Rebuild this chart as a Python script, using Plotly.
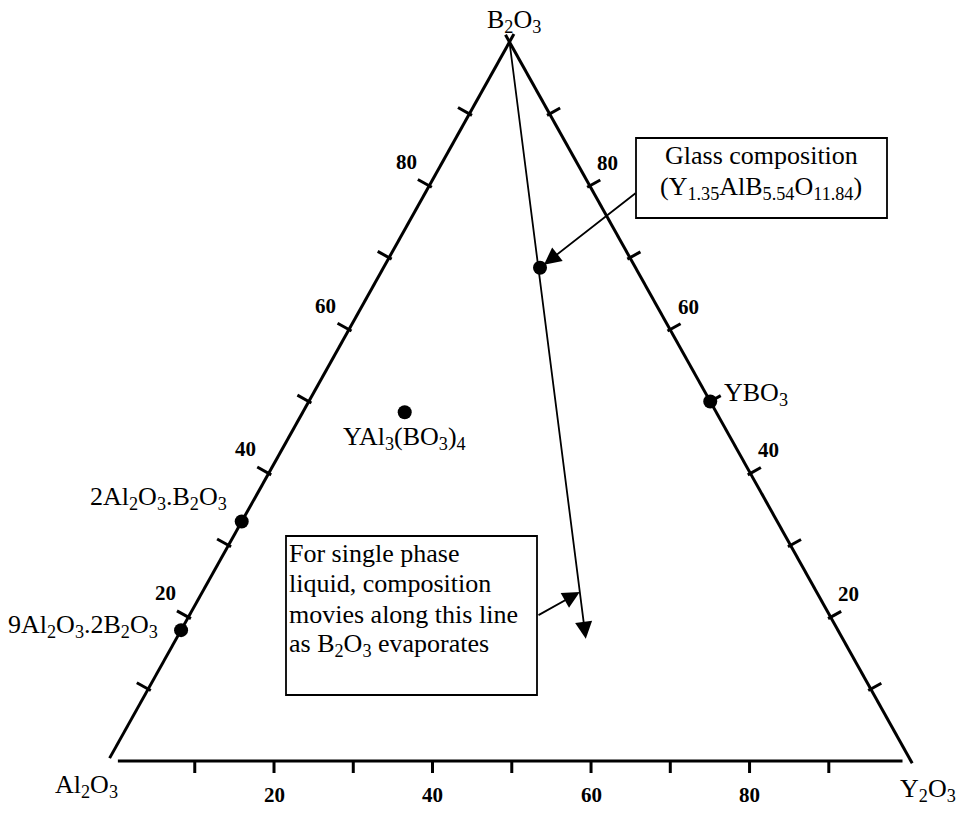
import math
import plotly.graph_objects as go

W, H = 963, 814

# ---------------- data (mol %) ----------------
vertex_names = ["Al<sub>2</sub>O<sub>3</sub>", "B<sub>2</sub>O<sub>3</sub>", "Y<sub>2</sub>O<sub>3</sub>"]

phase_labels = ["9Al<sub>2</sub>O<sub>3</sub>.2B<sub>2</sub>O<sub>3</sub>",
                "2Al<sub>2</sub>O<sub>3</sub>.B<sub>2</sub>O<sub>3</sub>",
                "YAl<sub>3</sub>(BO<sub>3</sub>)<sub>4</sub>",
                "YBO<sub>3</sub>"]
phase_al2o3 = [81.8, 66.7, 38.8, 0.0]
phase_b2o3 = [18.2, 33.3, 48.5, 50.0]
phase_y2o3 = [0.0, 0.0, 12.7, 50.0]

glass_al2o3, glass_b2o3, glass_y2o3 = 11.9, 68.6, 19.5

# evaporation path (start at B2O3 apex, end of arrow)
path_al2o3 = [0.0, 32.0]
path_b2o3 = [100.0, 17.0]
path_y2o3 = [0.0, 51.0]

# point on the path the text-box arrow points to
pointer_al2o3, pointer_b2o3, pointer_y2o3 = 29.5, 23.5, 47.0

edge_ticks = [10, 20, 30, 40, 50, 60, 70, 80, 90]
edge_tick_labels = [20, 40, 60, 80]
base_ticks = [10, 20, 30, 40, 50, 60, 70, 80, 90]
base_tick_labels = [20, 40, 60, 80]

glass_text = ["Glass composition",
              "(Y<sub>1.35</sub>AlB<sub>5.54</sub>O<sub>11.84</sub>)"]
path_text = ["For single phase",
             "liquid, composition",
             "movies along this line",
             "as B<sub>2</sub>O<sub>3</sub> evaporates"]

# ---------------- geometry helpers ----------------
X0_PX, B0_PY = 108.0, 761.0
PX_PER_X, PX_PER_B = 8.03, 7.19
BASE_X0, BASE_K = 0.934, 0.987   # separate scale of the detached base axis

FONT = "Liberation Serif"


def tern(al, b, y):
    return y + b / 2.0, b


def to_px(x, yc):
    return X0_PX + x * PX_PER_X, B0_PY - yc * PX_PER_B


def px_to_data(px, py):
    return (px - X0_PX) / PX_PER_X, (B0_PY - py) / PX_PER_B


def add_px(pt, dpx, dpy):
    return pt[0] + dpx / PX_PER_X, pt[1] - dpy / PX_PER_B


def paper(px, py):
    return px / W, 1 - py / H


fig = go.Figure()
black = "black"

# triangle edges (slight overshoot at apex, as drawn)
le0, le1 = tern(99.6, 0.4, 0), tern(-1.1, 101.1, 0)
re0, re1 = tern(0, 101.0, -1.0), tern(0, -0.3, 100.3)
fig.add_trace(go.Scatter(x=[le0[0], le1[0], None, re0[0], re1[0]],
                         y=[le0[1], le1[1], None, re0[1], re1[1]],
                         mode="lines", line=dict(color=black, width=3),
                         hoverinfo="skip"))

# edge directions in pixels -> outward normals
A = to_px(*tern(100, 0, 0))
B = to_px(*tern(0, 100, 0))
C = to_px(*tern(0, 0, 100))


def unit(v):
    l = math.hypot(*v)
    return v[0] / l, v[1] / l


dl = unit((B[0] - A[0], B[1] - A[1]))
nl = (-abs(dl[1]), -abs(dl[0]))
dr = unit((C[0] - B[0], C[1] - B[1]))
nr = (abs(dr[1]), -abs(dr[0]))

tx, ty = [], []
for b in edge_ticks:
    p = tern(100 - b, b, 0)
    s = add_px(p, -3 * nl[0], -3 * nl[1]); e = add_px(p, 13 * nl[0], 13 * nl[1])
    tx += [s[0], e[0], None]; ty += [s[1], e[1], None]
    p = tern(0, b, 100 - b)
    s = add_px(p, -3 * nr[0], -3 * nr[1]); e = add_px(p, 12 * nr[0], 12 * nr[1])
    tx += [s[0], e[0], None]; ty += [s[1], e[1], None]
# base axis
for v in base_ticks:
    p = (BASE_X0 + BASE_K * v, 0)
    e = add_px(p, 0, 12)
    tx += [p[0], e[0], None]; ty += [p[1], e[1], None]
tx += [BASE_X0 + BASE_K * 0.3, BASE_X0 + BASE_K * 99.3]
ty += [0, 0]
fig.add_trace(go.Scatter(x=tx, y=ty, mode="lines",
                         line=dict(color=black, width=3), hoverinfo="skip"))

# phase points
px_, py_ = [], []
for a, b, y in zip(phase_al2o3 + [glass_al2o3], phase_b2o3 + [glass_b2o3],
                   phase_y2o3 + [glass_y2o3]):
    X, Yc = tern(a, b, y)
    px_.append(X); py_.append(Yc)
fig.add_trace(go.Scatter(x=px_, y=py_, mode="markers",
                         marker=dict(color=black, size=14), hoverinfo="skip"))

ann = []


def lab(x, y, text, xs=0, ys=0, xa="center", size=26):
    ann.append(dict(x=x, y=y, xref="x", yref="y",
                    text=text, showarrow=False, xanchor=xa, yanchor="middle",
                    xshift=xs, yshift=ys,
                    font=dict(family=FONT, size=size, color=black)))


# vertex labels
for name, comp, sh in zip(vertex_names,
                          [(100, 0, 0), (0, 100, 0), (0, 0, 100)],
                          [(-22, -25), (4, 21), (17, -29)]):
    X, Yc = tern(*comp)
    lab(X, Yc, name, sh[0], sh[1])

# phase labels
offs = [(-21, 4, "right"), (-13, 24, "right"), (0, -26, "center"), (12, 8, "left")]
for name, a, b, y, o in zip(phase_labels, phase_al2o3, phase_b2o3, phase_y2o3, offs):
    X, Yc = tern(a, b, y)
    lab(X, Yc, name, o[0], o[1], o[2])

# tick labels
for v in edge_tick_labels:
    X, Yc = tern(100 - v, v, 0)
    lab(X, Yc, f"<b>{v}</b>", -23, 24, size=21)
    X, Yc = tern(0, v, 100 - v)
    lab(X, Yc, f"<b>{v}</b>", 18, 23, size=21)
for v in base_tick_labels:
    lab(BASE_X0 + BASE_K * v, 0, f"<b>{v}</b>", 0, -34, size=21)

# text boxes
shapes = []
for (x0, y0, x1, y1) in [(636, 138, 887, 218), (286, 536, 537, 695)]:
    p0 = paper(x0, y1); p1 = paper(x1, y0)
    shapes.append(dict(type="rect", xref="paper", yref="paper",
                       x0=p0[0], y0=p0[1], x1=p1[0], y1=p1[1],
                       line=dict(color=black, width=1.8), fillcolor="white",
                       layer="below"))
for t, yy in zip(glass_text, [155, 188]):
    ann.append(dict(x=761 / W, y=1 - yy / H, xref="paper", yref="paper", text=t,
                    showarrow=False, xanchor="center", yanchor="middle",
                    font=dict(family=FONT, size=26, color=black)))
for t, yy in zip(path_text, [553, 583.5, 614, 644.5]):
    ann.append(dict(x=287 / W, y=1 - yy / H, xref="paper", yref="paper", text=t,
                    showarrow=False, xanchor="left", yanchor="middle",
                    font=dict(family=FONT, size=26, color=black)))

# arrows
s = tern(path_al2o3[0], path_b2o3[0], path_y2o3[0])
e = tern(path_al2o3[1], path_b2o3[1], path_y2o3[1])
ann.append(dict(x=e[0], y=e[1], ax=s[0], ay=s[1], xref="x", yref="y",
                axref="x", ayref="y", text="", showarrow=True, arrowhead=2,
                arrowsize=1.9, arrowwidth=1.8, arrowcolor=black))
g = tern(glass_al2o3, glass_b2o3, glass_y2o3)
gs = px_to_data(637, 192)
ann.append(dict(x=g[0], y=g[1], ax=gs[0], ay=gs[1], xref="x", yref="y",
                axref="x", ayref="y", text="", showarrow=True, arrowhead=2,
                arrowsize=1.9, arrowwidth=1.8, arrowcolor=black, standoff=5))
pt = tern(pointer_al2o3, pointer_b2o3, pointer_y2o3)
ps = px_to_data(537, 616)
ann.append(dict(x=pt[0], y=pt[1], ax=ps[0], ay=ps[1], xref="x", yref="y",
                axref="x", ayref="y", text="", showarrow=True, arrowhead=2,
                arrowsize=1.9, arrowwidth=1.8, arrowcolor=black))

fig.update_layout(
    width=W, height=H, margin=dict(l=0, r=0, t=0, b=0),
    paper_bgcolor="white", plot_bgcolor="white", showlegend=False,
    font=dict(family=FONT, color=black),
    xaxis=dict(range=[-X0_PX / PX_PER_X, (W - X0_PX) / PX_PER_X], visible=False,
               fixedrange=True),
    yaxis=dict(range=[(B0_PY - H) / PX_PER_B, B0_PY / PX_PER_B], visible=False,
               fixedrange=True),
    annotations=ann, shapes=shapes,
)

fig.write_html("out.html", config={"displayModeBar": False})
